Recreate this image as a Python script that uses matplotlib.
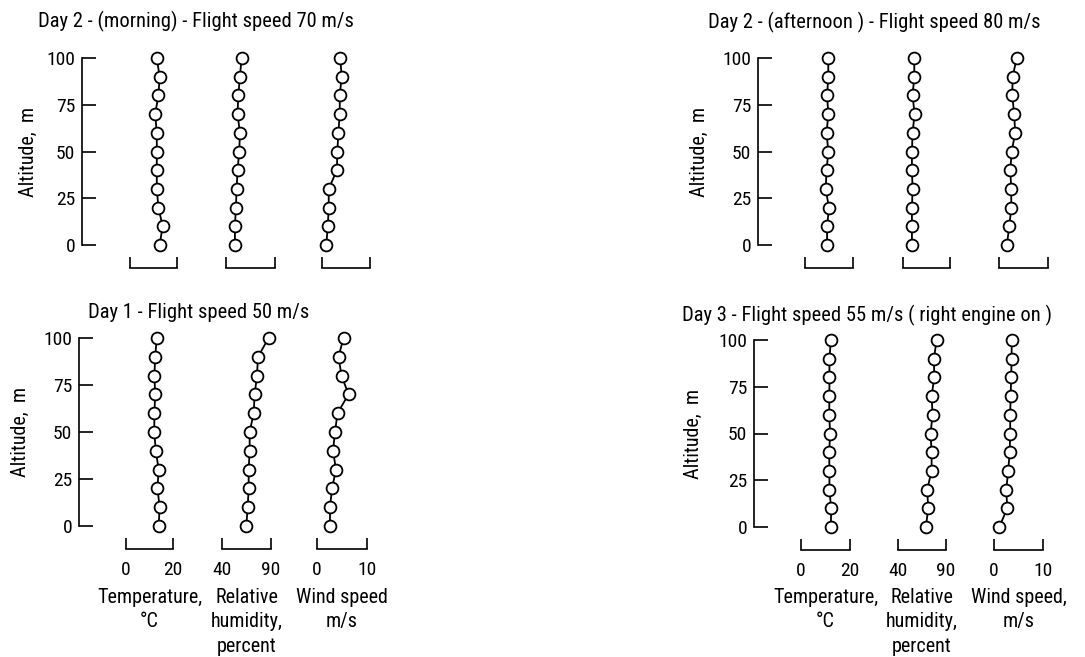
import matplotlib
matplotlib.use("Agg")
import matplotlib.pyplot as plt

W, H = 1085, 657
plt.rcParams['font.family'] = ['Roboto Condensed', 'Liberation Sans Narrow',
                               'Roboto', 'DejaVu Sans']

altitude = [100, 90, 80, 70, 60, 50, 40, 30, 20, 10, 0]

# Day 2 - morning
d2m_temp = [11.4, 12.6, 12.1, 10.7, 11.4, 11.4, 11.4, 11.4, 12.1, 13.9, 12.6]
d2m_hum = [55.9, 54.2, 52.5, 51.8, 54.2, 53.5, 51.8, 50.8, 50.1, 49.1, 49.1]
d2m_wind = [3.8, 4.1, 3.7, 3.7, 3.4, 3.2, 3.1, 1.4, 1.4, 1.2, 0.9]

# Day 2 - afternoon
d2a_temp = [9.7, 9.7, 9.2, 9.7, 9.0, 9.7, 9.0, 8.6, 10.0, 9.2, 9.2]
d2a_hum = [52.0, 52.0, 50.2, 52.3, 50.2, 49.5, 49.5, 50.2, 49.5, 49.5, 49.5]
d2a_wind = [3.6, 2.8, 2.7, 3.1, 3.3, 2.6, 2.3, 2.5, 2.5, 2.1, 1.6]

# Day 1
d1_temp = [13.1, 12.4, 12.1, 12.4, 12.1, 12.0, 12.7, 13.9, 13.4, 14.3, 13.9]
d1_hum = [87.6, 76.7, 75.7, 73.3, 72.3, 68.2, 68.2, 67.2, 67.2, 66.2, 64.8]
d1_wind = [5.3, 4.3, 4.9, 6.3, 4.1, 3.6, 3.2, 3.8, 3.0, 2.6, 2.6]

# Day 3 (right engine on)
d3_temp = [12.2, 11.6, 11.6, 11.6, 11.5, 11.9, 11.5, 11.6, 11.6, 12.3, 12.2]
d3_hum = [80.2, 77.4, 77.8, 75.0, 76.0, 73.9, 75.0, 75.0, 70.4, 71.5, 69.0]
d3_wind = [3.6, 3.6, 3.5, 3.4, 3.3, 3.3, 3.2, 2.9, 2.5, 2.7, 1.1]

var_ranges = [(0, 20), (40, 90), (0, 10)]
var_labels = ["Temperature,\n°C", "Relative\nhumidity,\npercent", "Wind speed\nm/s"]
var_labels_r = ["Temperature,\n°C", "Relative\nhumidity,\npercent", "Wind speed,\nm/s"]
alt_ticks = [0, 25, 50, 75, 100]

panels = [
    dict(title="Day 2 - (morning) - Flight speed 70 m/s", tx=38, ty=21,
         axx=82, top=58, bot=245, ylx=28,
         cols=[(130, 177), (226, 275), (322, 370)],
         data=[d2m_temp, d2m_hum, d2m_wind], labels=None),
    dict(title="Day 2 - (afternoon ) - Flight speed 80 m/s", tx=708, ty=22,
         axx=758, top=58, bot=245, ylx=699,
         cols=[(805, 853), (903, 950), (999, 1048)],
         data=[d2a_temp, d2a_hum, d2a_wind], labels=None),
    dict(title="Day 1 - Flight speed 50 m/s", tx=88, ty=312,
         axx=79, top=338, bot=526, ylx=20,
         cols=[(126, 173), (222, 271), (317, 367)],
         data=[d1_temp, d1_hum, d1_wind], labels=var_labels),
    dict(title="Day 3 - Flight speed 55 m/s ( right engine on )", tx=682, ty=315,
         axx=754, top=340, bot=527, ylx=693,
         cols=[(801, 850), (898, 946), (994, 1043)],
         data=[d3_temp, d3_hum, d3_wind], labels=var_labels_r),
]

fig = plt.figure(figsize=(W / 100, H / 100), dpi=100)


def add_px_axes(x0, x1, top, bot):
    return fig.add_axes([x0 / W, 1 - bot / H, (x1 - x0) / W, (bot - top) / H])


for p in panels:
    # altitude axis
    ax = add_px_axes(p['axx'], p['axx'] + 30, p['top'], p['bot'])
    ax.set_ylim(0, 100)
    ax.set_yticks(alt_ticks)
    ax.set_xticks([])
    for s in ['top', 'right', 'bottom']:
        ax.spines[s].set_visible(False)
    ax.spines['left'].set_linewidth(1.2)
    ax.tick_params(axis='y', direction='in', length=10, width=1.2,
                   pad=5, labelsize=14)
    ax.patch.set_visible(False)
    fig.text(p['ylx'] / W, 1 - (p['top'] + p['bot']) / 2 / H, "Altitude,  m",
             rotation=90, ha='center', va='center', fontsize=14.5)

    fig.text(p['tx'] / W, 1 - p['ty'] / H, p['title'], ha='left',
             va='center', fontsize=14.8)

    for i, (x0, x1) in enumerate(p['cols']):
        lo, hi = var_ranges[i]
        vax = add_px_axes(x0, x1, p['top'], p['bot'])
        vax.plot(p['data'][i], altitude, '-o', color='black', lw=1.3,
                 ms=8.5, mfc='white', mec='black', mew=1.3, clip_on=False)
        vax.set_xlim(lo, hi)
        vax.set_ylim(0, 100)
        vax.set_yticks([])
        for s in ['top', 'right', 'left']:
            vax.spines[s].set_visible(False)
        vax.spines['bottom'].set_position(('outward', 16.5))
        vax.spines['bottom'].set_bounds(lo, hi)
        vax.spines['bottom'].set_linewidth(1.2)
        vax.set_xticks([lo, hi])
        vax.tick_params(axis='x', direction='in', length=8, width=1.2,
                        pad=9, labelsize=14,
                        labelbottom=p['labels'] is not None)
        vax.patch.set_visible(False)
        if p['labels'] is not None:
            cx = (x0 + x1) / 2
            fig.text(cx / W, 1 - 588 / H, p['labels'][i], ha='center',
                     va='top', fontsize=14.5, linespacing=1.35)

fig.savefig("out.png", dpi=100)
